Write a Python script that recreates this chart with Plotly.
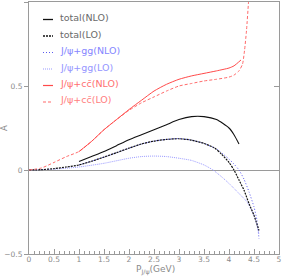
import plotly.graph_objects as go

# ---- data ----
tot_nlo_x = [1.0, 1.25, 1.5, 1.75, 2.0, 2.25, 2.5, 2.75, 3.0, 3.25, 3.5, 3.75, 4.0, 4.1, 4.2]
tot_nlo_y = [0.05, 0.08, 0.11, 0.145, 0.18, 0.21, 0.24, 0.27, 0.30, 0.318, 0.318, 0.30, 0.25, 0.21, 0.155]

tot_lo_x = [0, 0.25, 0.5, 0.75, 1.0, 1.25, 1.5, 1.75, 2.0, 2.25, 2.5, 2.75, 3.0, 3.25, 3.5, 3.7, 3.85, 4.0, 4.1, 4.2, 4.3, 4.4, 4.5, 4.6]
tot_lo_y = [0, 0.002, 0.008, 0.018, 0.03, 0.052, 0.077, 0.103, 0.13, 0.155, 0.172, 0.182, 0.186, 0.178, 0.158, 0.133, 0.095, 0.045, 0.0, -0.06, -0.12, -0.2, -0.27, -0.36]

gg_nlo_x = [1.0, 1.25, 1.5, 1.75, 2.0, 2.25, 2.5, 2.75, 3.0, 3.25, 3.5, 3.75, 4.0, 4.1, 4.2, 4.3, 4.4, 4.5, 4.56, 4.6]
gg_nlo_y = [0.03, 0.052, 0.077, 0.103, 0.13, 0.155, 0.172, 0.182, 0.187, 0.178, 0.158, 0.125, 0.065, 0.035, 0.0, -0.055, -0.13, -0.22, -0.30, -0.41]

gg_lo_x = [0, 0.5, 1.0, 1.5, 2.0, 2.25, 2.5, 2.75, 3.0, 3.25, 3.5, 3.68, 3.85, 4.0, 4.2, 4.36, 4.5, 4.6]
gg_lo_y = [0, 0.005, 0.018, 0.04, 0.07, 0.08, 0.083, 0.08, 0.07, 0.057, 0.03, 0.0, -0.04, -0.08, -0.14, -0.19, -0.27, -0.38]

cc_nlo_x = [1.0, 1.25, 1.5, 1.75, 2.0, 2.25, 2.5, 2.75, 3.0, 3.25, 3.5, 3.75, 4.0, 4.1, 4.24]
cc_nlo_y = [0.11, 0.17, 0.24, 0.30, 0.36, 0.415, 0.47, 0.51, 0.54, 0.56, 0.575, 0.59, 0.607, 0.62, 0.655]

cc_lo_x = [0, 0.25, 0.5, 0.75, 1.0, 1.25, 1.5, 1.75, 2.0, 2.25, 2.5, 2.75, 3.0, 3.25, 3.5, 3.75, 4.0, 4.1, 4.2, 4.27, 4.31, 4.35, 4.39, 4.41]
cc_lo_y = [0, 0.012, 0.045, 0.08, 0.11, 0.17, 0.24, 0.30, 0.355, 0.40, 0.435, 0.47, 0.50, 0.515, 0.53, 0.54, 0.553, 0.565, 0.59, 0.63, 0.71, 0.83, 1.0, 1.1]

x_ticks = [0, 0.5, 1, 1.5, 2, 2.5, 3, 3.5, 4, 4.5, 5]
x_tick_text = ["0", "0.5", "1", "1.5", "2", "2.5", "3", "3.5", "4", "4.5", "5"]
y_ticks = [-0.5, 0, 0.5, 1]
y_tick_text = ["\u22120.5", "0", "0.5", "1"]

labels = ["total(NLO)", "total(LO)", "J/\u03c8+gg(NLO)", "J/\u03c8+gg(LO)",
          "J/\u03c8+cc\u0304(NLO)", "J/\u03c8+cc\u0304(LO)"]

# ---- styles ----
C_BLACK = "#111111"
C_BLUE = "#5a5af0"
C_LBLUE = "#9a9aff"
C_RED = "#ff4a4a"
C_LRED = "#ff6a6a"
styles = [
    dict(color=C_BLACK, width=1.1, dash="solid"),
    dict(color=C_BLACK, width=1.2, dash="2px,1px"),
    dict(color=C_BLUE, width=1.0, dash="1px,2px"),
    dict(color=C_LBLUE, width=1.0, dash="1px,1px"),
    dict(color=C_RED, width=1.0, dash="solid"),
    dict(color=C_LRED, width=1.0, dash="3px,2px"),
]
text_colors = ["#6a6a6a", "#6a6a6a", "#8585ff", "#9595ff", "#ff7070", "#ff8080"]

series = [(tot_nlo_x, tot_nlo_y), (tot_lo_x, tot_lo_y), (gg_nlo_x, gg_nlo_y),
          (gg_lo_x, gg_lo_y), (cc_nlo_x, cc_nlo_y), (cc_lo_x, cc_lo_y)]

fig = go.Figure()
draw_order = [3, 2, 1, 0, 5, 4]
for i in draw_order:
    xs, ys = series[i]
    fig.add_trace(go.Scatter(x=xs, y=ys, mode="lines", line=dict(shape="spline", smoothing=0.6, **styles[i]),
                             name=labels[i], showlegend=False, hoverinfo="skip",
                             yaxis="y2" if i == 0 else "y"))

AX = "#9a9a9a"
FONT = "DejaVu Sans, Liberation Sans, Arial, sans-serif"
TF = dict(family=FONT, size=7.5, color="#8a8a8a")

# plot area in pixels
W, H = 283, 276
L, R, T, B = 29, 4, 2, 22
pw, ph = W - L - R, H - T - B

def px2paper(x, y):
    return (x - L) / pw, (H - B - y) / ph

shapes = []
annotations = []
rows_line = [19.5, 36, 52.5, 69, 85.5, 102]
for k in range(6):
    x0, y0 = px2paper(43, rows_line[k])
    x1, _ = px2paper(53, rows_line[k])
    st = styles[k]
    shapes.append(dict(type="line", xref="paper", yref="paper", x0=x0, x1=x1, y0=y0, y1=y0,
                       line=dict(color=st["color"], width=st["width"] + 0.2, dash=st["dash"])))
    tx, ty = px2paper(58, rows_line[k] - 2)
    annotations.append(dict(x=tx, y=ty, xref="paper", yref="paper", text=labels[k], showarrow=False,
                            xanchor="left", yanchor="middle",
                            font=dict(family=FONT, size=9.5, color=text_colors[k])))

# y title
ax_, ay_ = px2paper(4, 128)
annotations.append(dict(x=ax_, y=ay_, xref="paper", yref="paper", text="A", showarrow=False, textangle=-90,
                        xanchor="center", yanchor="middle",
                        font=dict(family=FONT, size=8.5, color="#8a8a8a")))
# x title
xt, yt = px2paper(155, 270)
annotations.append(dict(x=xt, y=yt, xref="paper", yref="paper", text="P<sub>J/\u03c8</sub>(GeV)", showarrow=False,
                        xanchor="center", yanchor="middle",
                        font=dict(family=FONT, size=9, color="#8a8a8a")))

fig.update_layout(
    width=W, height=H,
    margin=dict(l=L, r=R, t=T, b=B),
    paper_bgcolor="white", plot_bgcolor="white",
    showlegend=False, hovermode=False,
    shapes=shapes, annotations=annotations,
    xaxis=dict(range=[0, 5], tickmode="array", tickvals=x_ticks, ticktext=x_tick_text,
               ticks="inside", ticklen=5, tickcolor=AX, tickwidth=1, ticklabelstandoff=-2,
               minor=dict(dtick=0.1, ticks="inside", ticklen=3, tickcolor=AX, tickwidth=1),
               showline=True, linecolor=AX, linewidth=1, mirror=True,
               showgrid=False, zeroline=False, tickfont=TF),
    yaxis=dict(range=[-0.5, 1], tickmode="array", tickvals=y_ticks, ticktext=y_tick_text,
               ticks="outside", ticklen=4, tickcolor=AX, tickwidth=1,
               showline=True, linecolor=AX, linewidth=1, mirror=True,
               showgrid=False, zeroline=True, zerolinecolor=AX, zerolinewidth=1, tickfont=TF),
    yaxis2=dict(range=[-0.5, 1], overlaying="y", side="right", tickmode="array", tickvals=y_ticks,
                ticks="inside", ticklen=5, tickcolor=AX, showticklabels=False,
                showline=False, showgrid=False, zeroline=False),
)

fig.write_html("out.html", config={"displayModeBar": False, "staticPlot": True},
               post_script="document.body.style.margin='0';document.body.style.overflow='hidden';")
